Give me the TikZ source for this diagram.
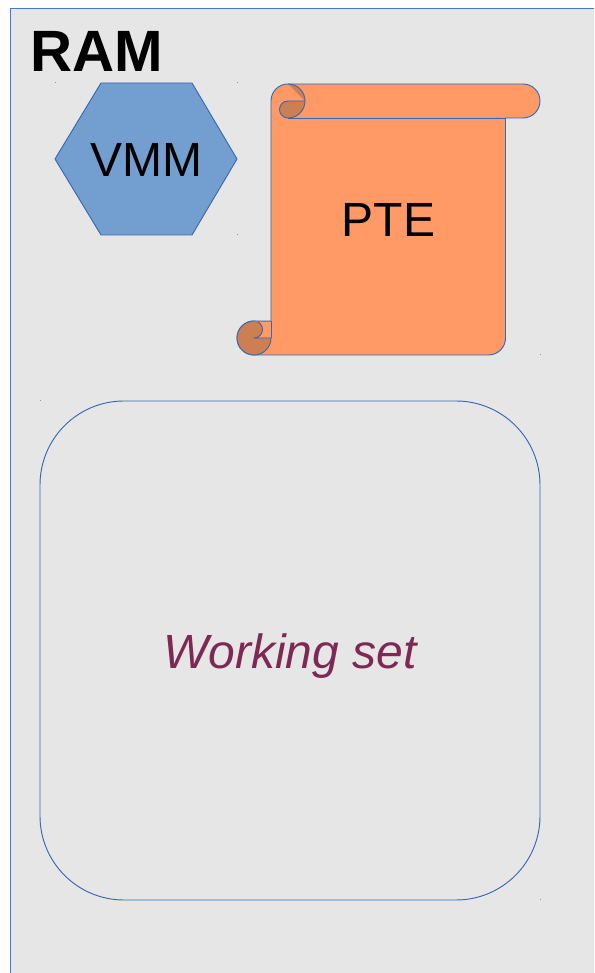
\documentclass[tikz,border=0pt]{standalone}
\usepackage{fontspec}
\setmainfont{Liberation Sans}
\definecolor{framegray}{RGB}{230, 230, 230}
\definecolor{lineblue}{RGB}{56, 104, 176}
\definecolor{framelineblue}{RGB}{70, 120, 210}
\definecolor{hexblue}{RGB}{114, 159, 207}
\definecolor{scrollorange}{RGB}{255, 153, 102}
\definecolor{foldorange}{RGB}{204, 127, 83}
\definecolor{wsetpurple}{RGB}{126, 40, 84}
\usetikzlibrary{positioning}

\begin{document}
\begin{tikzpicture}[
  x=0.75pt, y=0.75pt,
  shapeline/.style={draw=lineblue, line width=0.7pt, line join=round},
  biglabel/.style={font=\fontsize{36}{43}\selectfont, inner sep=0pt, anchor=base}
]
  \useasboundingbox (0, 0) rectangle (594, 973);
  % frame, only its left and top edges show
  \fill[framegray] (11, 0) rectangle (594, 965);
  \draw[framelineblue, line width=0.75pt] (10.5, 0) -- (10.5, 964.5) -- (594, 964.5);
  \node[font=\fontsize{43.7}{50}\selectfont\bfseries, inner sep=0pt, anchor=base] (ramlabel) at (96.5, 901) {RAM};
  % hexagon
  \draw[shapeline, fill=hexblue] (55, 814) -- (101, 890) -- (192, 890) -- (237, 814) -- (192, 738) -- (101, 738) -- cycle;
  \node[biglabel] (vmmlabel) at (146, 796) {VMM};
  % scroll body
  \draw[shapeline, fill=scrollorange] (271, 872) arc (180:90:17) -- (523, 889) arc (90:-90:17) -- (505.5, 855)
    -- (505.5, 635) arc (0:-90:17) -- (254, 618) arc (270:90:17) -- (271, 652) -- cycle;
  % top curl
  \fill[foldorange] (288, 889) arc (90:0:17) -- cycle;
  \draw[shapeline, fill=foldorange] (305, 872) -- (288, 872) arc (90:270:8.5) arc (-90:0:17);
  \draw[shapeline] (288, 889) arc (90:0:17);
  \draw[shapeline] (288, 855) -- (505.5, 855);
  % bottom curl
  \draw[shapeline, fill=foldorange] (254, 652) arc (90:270:17) arc (-90:0:17) -- (254, 635) arc (-90:90:8.5) -- cycle;
  \draw[shapeline] (271, 652) -- (271, 635);
  \draw[lineblue!35!foldorange, line width=0.7pt] (254, 652) -- (271, 652);
  \node[biglabel] (ptelabel) at (388.5, 736.5) {PTE};
  % working set
  \draw[shapeline, rounded corners=63pt] (40, 73) rectangle (540, 572);
  \node[biglabel, font=\fontsize{36}{43}\selectfont\itshape, text=wsetpurple] (wsetlabel) at (290, 304) {Working set};
  % stray marks
  \foreach \px/\py in {55/890, 237/890, 237/738, 540/618, 40/572, 540/73}
    \fill[lineblue!70] (\px-0.5, \py-0.5) rectangle (\px+0.5, \py+0.5);
\end{tikzpicture}
\end{document}
